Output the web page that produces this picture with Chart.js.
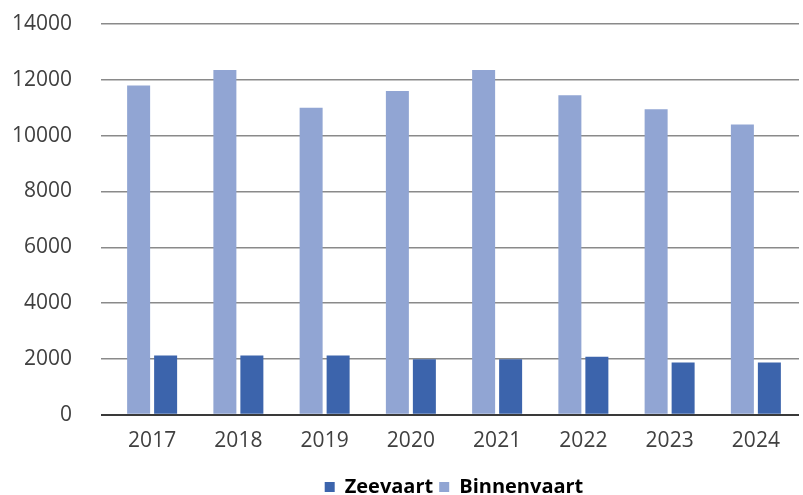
<!DOCTYPE html>
<html>
<head>
<meta charset="utf-8">
<script src="https://cdn.jsdelivr.net/npm/chart.js@4/dist/chart.umd.min.js"></script>
<style>
html,body{margin:0;padding:0;background:#fff;}
#wrap{width:803px;height:495px;position:relative;}
</style>
</head>
<body>
<div id="wrap"><canvas id="c" width="803" height="495"></canvas></div>
<script>
const years = ['2017','2018','2019','2020','2021','2022','2023','2024'];
const binnenvaart = [11800, 12350, 11000, 11600, 12350, 11450, 10950, 10400];
const zeevaart = [2120, 2120, 2120, 1990, 1990, 2080, 1870, 1870];
const yTicks = [0, 2000, 4000, 6000, 8000, 10000, 12000, 14000];

new Chart(document.getElementById('c'), {
  type: 'bar',
  data: {
    labels: years,
    datasets: [
      { label: 'Binnenvaart', data: binnenvaart, backgroundColor: '#91A5D3' },
      { label: 'Zeevaart', data: zeevaart, backgroundColor: '#3C64AC' }
    ]
  },
  options: {
    responsive: false,
    animation: false,
    devicePixelRatio: 1,
    datasets: { bar: { categoryPercentage: 0.626, barPercentage: 0.852 } },
    layout: { padding: { top: 24, right: 4, bottom: -12, left: 0 } },
    plugins: {
      tooltip: { enabled: false },
      legend: {
        position: 'bottom',
        reverse: true,
        fullSize: false,
        labels: {
          boxWidth: 10, boxHeight: 10, padding: 6,
          color: '#000',
          font: { family: 'Open Sans', size: 20, weight: 'bold' }
        }
      }
    },
    scales: {
      x: {
        afterFit: s => { s.height += 3; },
        grid: { display: false, drawTicks: false },
        border: { display: false },
        ticks: { color: '#404040', padding: 14, font: { family: 'Open Sans', size: 21 } }
      },
      y: {
        min: 0, max: 14000,
        afterFit: s => { s.width = 109; s.paddingTop = 0; s.paddingBottom = 0; },
        afterBuildTicks: s => { s.ticks = yTicks.map(v => ({ value: v })); },
        border: { display: false },
        grid: {
          color: c => c.tick && c.tick.value === 0 ? '#3a3a3a' : '#8a8a8a',
          lineWidth: c => c.tick && c.tick.value === 0 ? 2 : 1.5,
          tickLength: 8,
          tickColor: c => c.tick && c.tick.value === 0 ? '#3a3a3a' : '#8a8a8a'
        },
        ticks: {
          color: '#404040', padding: 29, font: { family: 'Open Sans', size: 21 },
          callback: v => String(v)
        }
      }
    }
  }
});
</script>
</body>
</html>
